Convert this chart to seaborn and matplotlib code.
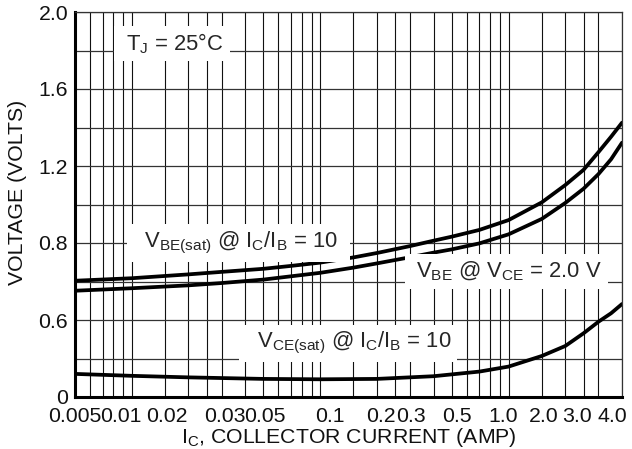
import matplotlib
matplotlib.use("Agg")
import seaborn as sns
import matplotlib.pyplot as plt
from matplotlib.ticker import FixedLocator, NullFormatter

# collector current (A) and voltages (V)
ic = [0.005, 0.01, 0.02, 0.03, 0.05, 0.07, 0.1, 0.15, 0.2, 0.3, 0.4, 0.5, 0.7, 1.0, 1.5, 2.0, 2.5, 3.0, 3.5, 4.0]
vbe_sat = [0.604, 0.617, 0.637, 0.650, 0.666, 0.681, 0.698, 0.725, 0.748, 0.784, 0.812, 0.833, 0.868, 0.919,
           1.011, 1.101, 1.180, 1.272, 1.352, 1.425]
vbe_on = [0.552, 0.565, 0.580, 0.592, 0.610, 0.627, 0.645, 0.672, 0.694, 0.726, 0.750, 0.767, 0.798, 0.845,
          0.925, 1.008, 1.082, 1.158, 1.235, 1.321]
ic_ce = [0.005, 0.01, 0.02, 0.05, 0.1, 0.2, 0.4, 0.7, 1.0, 1.5, 2.0, 2.5, 3.0, 3.5, 4.0]
vce_sat = [0.120, 0.110, 0.102, 0.094, 0.092, 0.094, 0.108, 0.132, 0.158, 0.213, 0.265, 0.331, 0.391, 0.435, 0.483]

x_labels = ["0.005", "0.01", "0.02", "0.03", "0.05", "0.1", "0.2", "0.3", "0.5", "1.0", "2.0", "3.0", "4.0"]
# where the labels sit on the original sheet (they are not quite on their grid lines)
x_label_pos = [0.005, 0.00877, 0.01538, 0.03125, 0.0509, 0.112, 0.210, 0.303, 0.532, 0.932, 1.54, 2.30, 3.57]
y_ticks = [0, 0.4, 0.8, 1.2, 1.6, 2.0]
y_labels = ["0", "0.6", "0.8", "1.2", "1.6", "2.0"]

sns.set_theme(style="white")
plt.rcParams["font.family"] = ["Liberation Sans", "DejaVu Sans"]
plt.rcParams["mathtext.default"] = "regular"

fig = plt.figure(figsize=(6.32, 4.49), dpi=100)
ax = fig.add_axes([75 / 632, 1 - 397 / 449, 547 / 632, 385 / 449])
ax.set_xscale("log")

sns.lineplot(x=ic, y=vbe_sat, ax=ax, color="black", lw=2.7)
sns.lineplot(x=ic, y=vbe_on, ax=ax, color="black", lw=2.7)
sns.lineplot(x=ic_ce, y=vce_sat, ax=ax, color="black", lw=2.7)

ax.set_xlim(0.005, 4.0)
ax.set_ylim(0, 2.0)

# log paper lines: 1, 1.5, 2, 2.5, 3 ... 9 in each decade
grid_x = []
for dec in [0.001, 0.01, 0.1, 1.0]:
    for m in [1, 1.5, 2, 2.5, 3, 4, 5, 6, 7, 8, 9]:
        v = round(m * dec, 6)
        if 0.005 <= v <= 4.0:
            grid_x.append(v)
ax.xaxis.remove_overlapping_locs = False
ax.xaxis.set_minor_locator(FixedLocator(grid_x))
ax.xaxis.set_minor_formatter(NullFormatter())
ax.xaxis.set_major_locator(FixedLocator(x_label_pos))
ax.set_xticklabels(x_labels)
ax.yaxis.set_major_locator(FixedLocator(y_ticks))
ax.yaxis.set_minor_locator(FixedLocator([0.2, 0.6, 1.0, 1.4, 1.8]))
ax.set_yticklabels(y_labels)

ax.grid(False)
ax.grid(True, which="minor", axis="x", color="#111111", lw=0.8)
ax.grid(True, which="both", axis="y", color="#333333", lw=0.9)
ax.tick_params(which="both", length=0, labelsize=15.3, colors="#111111")
ax.tick_params(axis="x", pad=7.5)
ax.tick_params(axis="y", pad=5)

for s in ["left", "bottom"]:
    ax.spines[s].set_linewidth(2.2)
    ax.spines[s].set_color("black")
for s in ["top", "right"]:
    ax.spines[s].set_linewidth(0.9)
    ax.spines[s].set_color("#333333")

ax.set_xlabel("I$_C$, COLLECTOR CURRENT (AMP)", fontsize=15.3, labelpad=0, color="#111111")
ax.set_ylabel("VOLTAGE (VOLTS)", fontsize=15.3, color="#111111")
ax.yaxis.set_label_coords(-0.088, 0.531)

box = dict(boxstyle="square,pad=0.25", fc="white", ec="none")
ax.text(0.01635, 1.836, " T$_J$ = 25°C ", ha="center", va="center", fontsize=15.8, bbox=box)
ax.text(0.0368, 0.80, "  V$_{BE(sat)}$ @ I$_C$/I$_B$ = 10  ", ha="center", va="center", fontsize=15.8, bbox=box)
ax.text(0.972, 0.652, " V$_{BE}$ @ V$_{CE}$ = 2.0 V", ha="center", va="center", fontsize=15.8, bbox=box)
ax.text(0.141, 0.28, "  V$_{CE(sat)}$ @ I$_C$/I$_B$ = 10 ", ha="center", va="center", fontsize=15.8, bbox=box)

fig.savefig("out.png", dpi=100)
